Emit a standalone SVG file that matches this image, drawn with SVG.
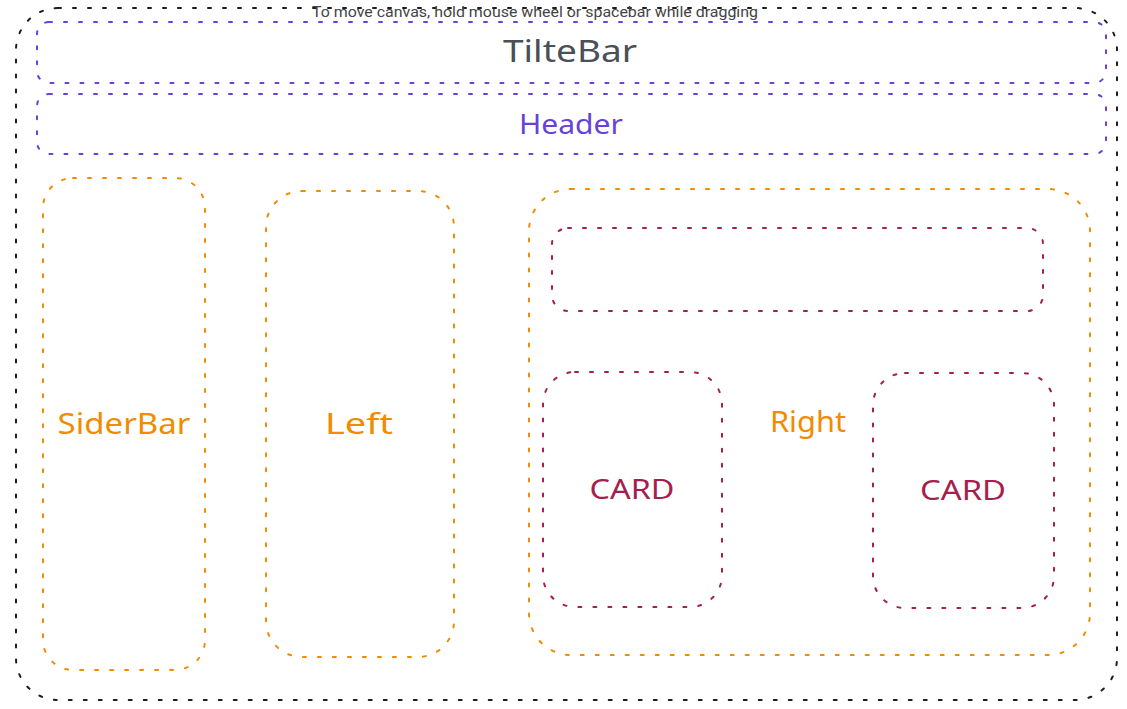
<svg xmlns="http://www.w3.org/2000/svg" width="1127" height="709" viewBox="0 0 1127 709">
<style>
.box{fill:none;stroke-width:2;stroke-linecap:round;stroke-dasharray:3 12}
.blk{stroke:#1e1e1e}
.pur{stroke:#6741d9}
.org{stroke:#f08c00}
.cri{stroke:#a61e4d}
.lbl{font-family:"Noto Sans","DejaVu Sans",sans-serif;text-anchor:middle;dominant-baseline:central}
</style>
<rect width="1127" height="709" fill="#ffffff"/>
<g id="frame"><rect class="box blk" x="16" y="8" width="1101" height="692" rx="42"/></g>
<text x="535" y="12" font-family="Roboto,'Liberation Sans',sans-serif" font-size="14" fill="#444" text-anchor="middle" dominant-baseline="central" textLength="446" lengthAdjust="spacingAndGlyphs">To move canvas, hold mouse wheel or spacebar while dragging</text>
<g id="titlebar"><rect class="box pur" x="37" y="22" width="1069" height="61" rx="12"/><text class="lbl" x="570" y="50" font-size="30" fill="#495057" textLength="134" lengthAdjust="spacingAndGlyphs">TilteBar</text></g>
<g id="header"><rect class="box pur" x="37" y="94" width="1069" height="60" rx="12"/><text class="lbl" x="571" y="123" font-size="27" fill="#6741d9" textLength="104" lengthAdjust="spacingAndGlyphs">Header</text></g>
<g id="siderbar"><rect class="box org" x="43" y="178" width="162" height="492" rx="30"/><text class="lbl" x="124" y="422" font-size="29" fill="#f08c00" textLength="133" lengthAdjust="spacingAndGlyphs">SiderBar</text></g>
<g id="left"><rect class="box org" x="266" y="191" width="188" height="466" rx="36"/><text class="lbl" x="359" y="422" font-size="29" fill="#f08c00" textLength="68" lengthAdjust="spacingAndGlyphs">Left</text></g>
<g id="right"><rect class="box org" x="529" y="189" width="561" height="466" rx="42"/><text class="lbl" x="808" y="420" font-size="29" fill="#f08c00" textLength="76" lengthAdjust="spacingAndGlyphs">Right</text></g>
<g id="topbox"><rect class="box cri" x="552" y="228" width="491" height="83" rx="16"/></g>
<g id="card1"><rect class="box cri" x="543" y="372" width="179" height="235" rx="32"/><text class="lbl" x="632" y="488" font-size="27" fill="#a61e4d" textLength="85" lengthAdjust="spacingAndGlyphs">CARD</text></g>
<g id="card2"><rect class="box cri" x="873" y="373" width="181" height="235" rx="32"/><text class="lbl" x="963" y="489" font-size="27" fill="#a61e4d" textLength="86" lengthAdjust="spacingAndGlyphs">CARD</text></g>
<g id="connectors"></g>
</svg>
